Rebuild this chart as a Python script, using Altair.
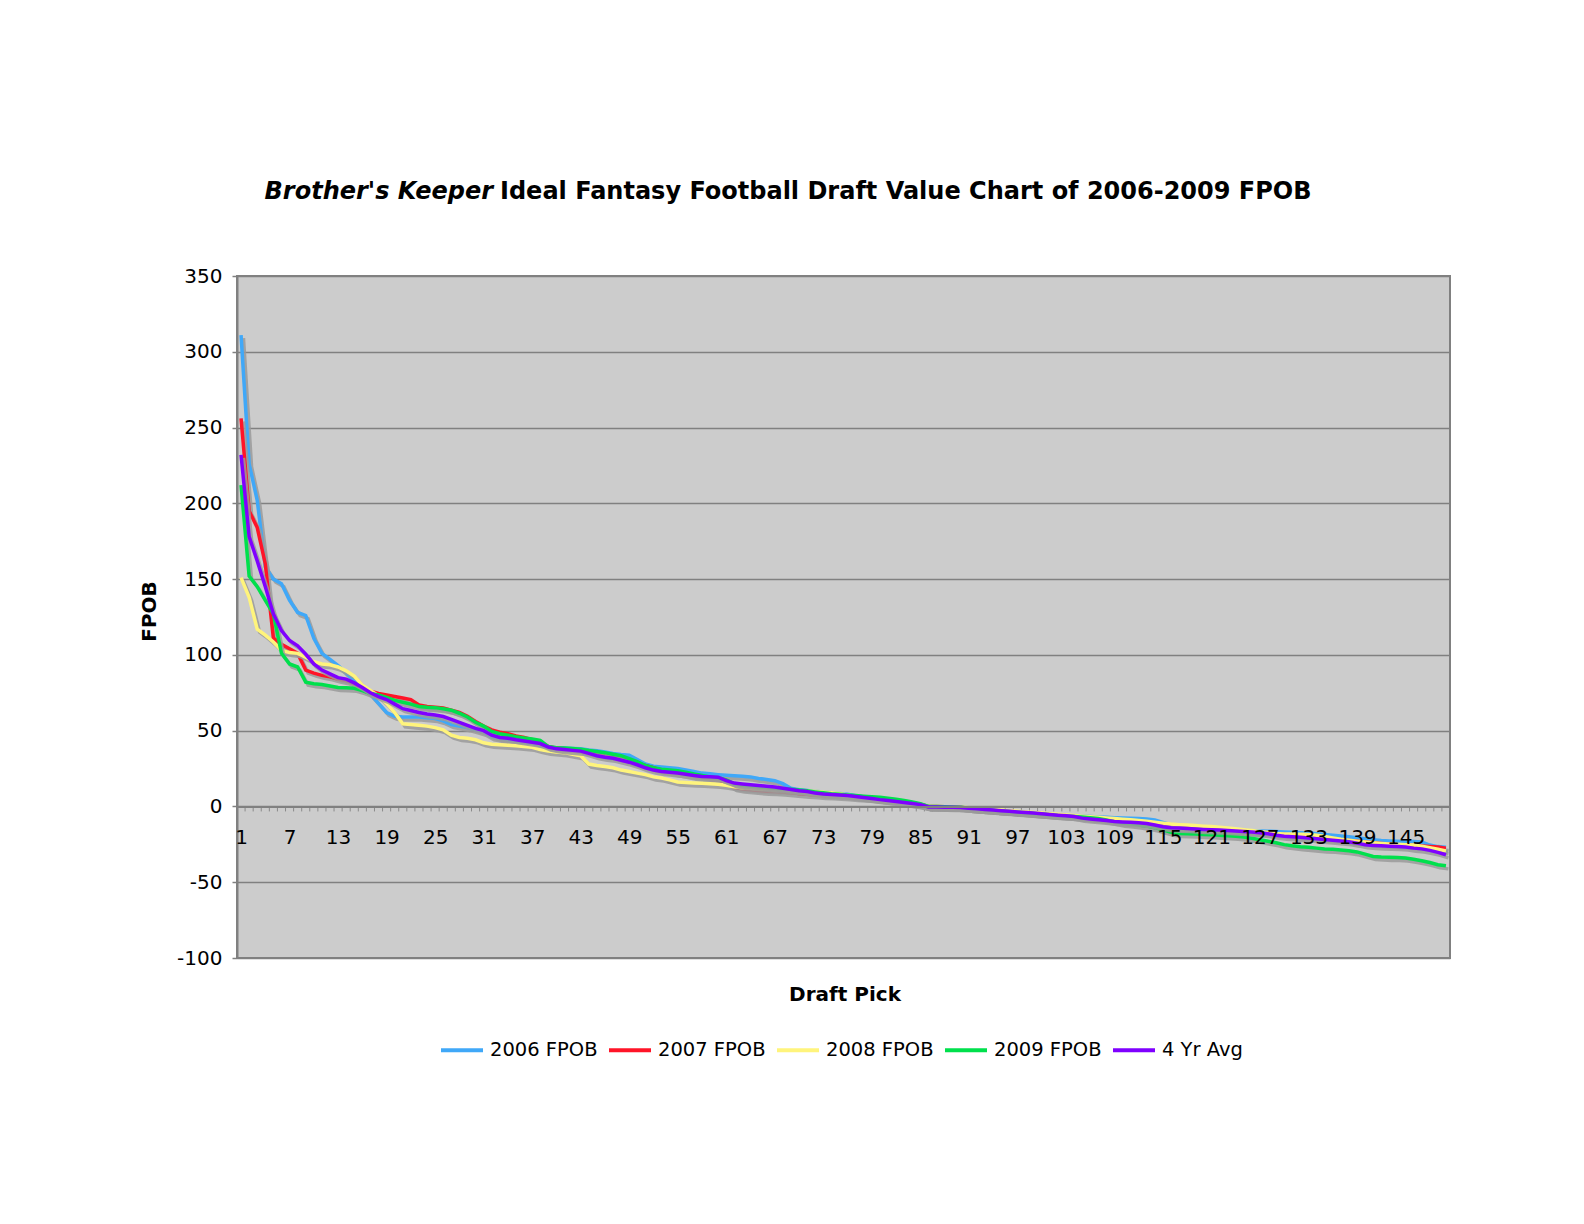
import altair as alt
import pandas as pd

picks = list(range(1, 151))

s2006 = [311, 226, 202, 158, 150, 147, 136, 128, 126, 111,
         101, 97, 93, 88, 83, 79, 74, 68, 62, 59.5,
         59, 59, 59, 58.5, 58, 56.5, 54, 53, 52, 50.5,
         49, 46, 45, 44, 43.5, 42.5, 41.5, 40, 39, 38.8,
         38.5, 38.3, 38, 37.3, 36.8, 36, 35, 34.3, 33.8, 31,
         28, 26.5, 26, 25.5, 25, 24, 23, 22, 21.5, 21,
         20.6, 20.3, 20, 19.5, 18.5, 17.8, 17, 15, 12, 11,
         10.5, 10, 9.5, 9, 8.5, 8, 7, 6.3, 5.6, 5,
         4.5, 3.8, 3, 2.2, 1.3, 0, -0.2, -0.3, -0.4, -0.5,
         -1, -1.5, -2, -2.4, -2.8, -3.2, -3.6, -4, -4.4, -4.8,
         -5.2, -5.6, -6, -6.2, -6.5, -6.7, -7, -7.2, -7.4, -7.6,
         -7.8, -8, -8.3, -9, -10.5, -12, -13, -13.5, -14, -14.5,
         -14.8, -15, -15.3, -15.6, -15.8, -16, -16.2, -16.4, -16.5, -16.8,
         -17, -17.3, -17.6, -18, -18.5, -19, -19.5, -20, -20.6, -21.3,
         -22, -22.5, -22.8, -23, -23.1, -23.2, -23.5, -25.5, -26.5, -27]

s2007 = [256, 195, 184, 160, 111, 107, 104, 101, 90, 88,
         86.5, 85.5, 84, 83, 81, 78, 76, 74.5, 73.5, 72.5,
         71.5, 70.5, 67, 66, 65.5, 65, 63.5, 62, 59.5, 56,
         53, 50.5, 49, 48, 46.5, 45.5, 44, 42.5, 39.5, 38.5,
         38, 37.5, 37, 36, 35, 34, 33, 32, 30, 28.5,
         27, 25.5, 24, 23, 22, 21, 20, 19, 18, 17.5,
         16, 12.5, 11.5, 11, 10.5, 10, 9.8, 9.5, 9, 8.5,
         8, 7.7, 7.3, 7, 6.7, 6.4, 6, 5.6, 5.2, 4.7,
         4.2, 3.6, 3, 2.3, 1.5, 0, 0, -0.2, -0.4, -0.6,
         -1.2, -1.6, -2, -2.4, -2.8, -3.2, -3.6, -4, -4.5, -5,
         -5.4, -5.8, -6.2, -6.6, -7, -7.4, -7.8, -8.2, -8.6, -9,
         -9.5, -10, -10.5, -11.5, -12.5, -13.5, -14, -14.3, -14.6, -15,
         -15.3, -15.6, -15.9, -16.2, -16.5, -16.8, -17.2, -17.6, -18, -18.5,
         -19, -19.5, -20, -20.5, -21, -21.5, -22, -22.5, -23, -23.5,
         -24, -24.4, -24.8, -25.2, -25.5, -25.8, -26.1, -26.4, -26.8, -27.5]

s2008 = [151, 138, 117, 113, 108.5, 103, 101.5, 101, 98.5, 95.5,
         94, 93.5, 92, 89.5, 86, 80, 76.5, 73, 68, 62,
         54.5, 54, 53.5, 53, 52, 50.5, 47, 45.5, 45, 44,
         42, 41, 40.7, 40.4, 40, 39.5, 39, 37.5, 36.5, 36,
         35.5, 34.5, 33.5, 28, 27, 26.3, 25.5, 24, 23, 22,
         21, 19.5, 18.8, 17.5, 16.2, 15.8, 15.5, 15.3, 15, 14.7,
         14, 13, 12.3, 12, 11.6, 11.3, 11, 10.8, 10.6, 10.4,
         10.2, 10, 9.6, 9, 8.5, 7.5, 6.5, 6, 5.5, 4.8,
         4, 3.3, 2.6, 1.8, 1, 0, -0.1, -0.2, -0.3, -0.5,
         -0.8, -1.2, -1.6, -2, -2.4, -2.8, -3.2, -3.6, -4, -4.4,
         -4.8, -5.2, -5.6, -6, -6.4, -6.8, -7.2, -7.6, -8, -8.4,
         -8.8, -9.3, -9.8, -10.4, -11, -11.6, -12, -12.3, -12.6, -13,
         -13.3, -13.7, -14.2, -14.7, -15.3, -15.9, -16.5, -17.2, -17.8, -18.1,
         -18.2, -18.3, -18.5, -19, -19.8, -20.8, -21.7, -22.3, -22.9, -23.5,
         -24, -24.4, -24.7, -25, -25.2, -25.5, -26.2, -27.2, -28.3, -29.3]

s2009 = [212, 152, 145, 136, 127, 101, 94, 92, 82, 81,
         80.5, 79.5, 78.5, 78.3, 78, 76.5, 74.5, 73.5, 72, 70,
         68.8, 67.5, 66, 65.5, 65.2, 64.5, 63.5, 61.5, 59, 55.5,
         53, 49.5, 48, 47, 46, 45.2, 44.5, 43.5, 39.5, 38.8,
         38.5, 38.2, 37.8, 37, 36.2, 35.5, 34.5, 33.5, 31.5, 29.5,
         27, 25.5, 24.5, 24, 23.5, 22.5, 21.5, 20.5, 19.5, 19,
         17.5, 15, 14, 13.5, 13, 12.5, 12, 11.7, 11.3, 10.8,
         10.3, 9.6, 9, 8.4, 8, 7.6, 7.2, 6.8, 6.4, 6,
         5.4, 4.8, 4, 3, 1.8, 0, 0, -0.2, -0.4, -0.6,
         -1.2, -1.6, -2, -2.5, -3, -3.4, -3.8, -4.2, -4.6, -5,
         -5.5, -6, -6.3, -6.6, -7, -7.5, -8, -9, -10, -11,
         -11.5, -12.2, -13, -14, -15.5, -17, -17.8, -18, -18.2, -18.5,
         -18.7, -19, -19.3, -19.7, -20.2, -21, -22, -23, -24, -25.2,
         -26, -26.6, -27, -27.5, -28, -28.3, -28.7, -29.2, -30, -31.5,
         -33, -33.4, -33.6, -33.7, -34, -34.8, -35.8, -37, -38.5, -39.2]

avg4 = [232, 178, 162, 145, 127, 116, 109.5, 106, 100.5, 94,
        90, 87.5, 85, 84, 81.5, 78.5, 75, 72.5, 70.5, 67.5,
        64.5, 63.3, 62, 61, 60.3, 59.3, 57.5, 55.5, 53.5, 51.5,
        50, 47, 45.5, 45, 44, 43.2, 42.4, 41.5, 39.2, 38,
        37.5, 37, 36.5, 35, 33.5, 32.5, 31.8, 30.5, 29.2, 27.5,
        25.5, 24, 23, 22.5, 22, 21.2, 20.4, 19.8, 19.6, 19.3,
        17, 15.4, 14.8, 14.3, 13.8, 13.3, 12.8, 12, 11.2, 10.4,
        9.8, 8.8, 8.2, 7.9, 7.6, 7.2, 6.5, 5.9, 5.3, 4.5,
        3.9, 3.2, 2.6, 1.9, 1.2, -0.3, -0.4, -0.5, -0.6, -0.7,
        -1.2, -1.6, -2, -2.4, -2.8, -3.2, -3.6, -4, -4.4, -4.8,
        -5.3, -5.8, -6.2, -6.7, -7.7, -8.3, -8.8, -9.3, -9.9, -10.2,
        -10.5, -10.8, -11.2, -12.2, -13.4, -14, -14.3, -14.6, -14.9, -15.2,
        -15.4, -15.6, -15.9, -16.2, -16.5, -16.9, -17.4, -18, -19, -19.6,
        -20, -20.4, -20.8, -21.3, -21.8, -22.3, -22.8, -23.3, -24.2, -25.3,
        -25.7, -26, -26.2, -26.4, -26.8, -27.5, -28, -29, -30.3, -31.9]

series_names = ["2006 FPOB", "2007 FPOB", "2008 FPOB", "2009 FPOB", "4 Yr Avg"]
series_colors = ["#40a8f8", "#ff1428", "#fff47c", "#00e04c", "#7f00ff"]
series_values = [s2006, s2007, s2008, s2009, avg4]

y_ticks = list(range(-100, 351, 50))
x_labels = list(range(1, 151, 6))
title_italic = ["Brother's Keeper"]
title_rest = ["Ideal Fantasy Football Draft Value Chart of 2006-2009 FPOB"]
x_title = ["Draft Pick"]
y_title = "FPOB"

FONT = "DejaVu Sans"
W, H = 1213, 682
zero_px = H * 350 / 450

rows = []
for name, vals in zip(series_names, series_values):
    for p, v in zip(picks, vals):
        rows.append({"pick": p, "value": v, "series": name})
df = pd.DataFrame(rows)

xscale = alt.Scale(domain=[0.5, 150.5], nice=False, zero=False)
yscale = alt.Scale(domain=[-100, 350], nice=False, zero=False)

xaxis = alt.Axis(values=x_labels, tickSize=0, labelFontSize=20, labelFont=FONT,
                 labelColor="black", labelPadding=31, labelBaseline="middle",
                 labelFlush=False, labelOverlap=False, grid=False,
                 domainColor="#808080", domainWidth=2, offset=-(H - zero_px),
                 labelExpr="'' + datum.value", zindex=1,
                 title=None)
yaxis = alt.Axis(values=y_ticks, tickSize=5, tickColor="#808080", tickWidth=1.5,
                 labelFontSize=20, labelFont=FONT, labelColor="black", labelPadding=10,
                 labelExpr="'' + datum.value",
                 grid=True, gridColor="#808080", gridWidth=1.5,
                 domainColor="#808080", domainWidth=2,
                 title=y_title, titleFont=FONT, titleFontSize=20, titleFontWeight="bold",
                 titleColor="black", titleX=-88, titleY=335, titleBaseline="middle")

legend = alt.Legend(orient="none", legendX=202, legendY=751, direction="horizontal",
                    symbolType="stroke", symbolSize=1764, symbolStrokeWidth=4,
                    labelFontSize=19.5, labelFont=FONT, labelColor="black",
                    labelOffset=5, columnPadding=3, title=None, padding=0)

base = alt.Chart(df)

# axis tick marks at category boundaries along the zero line
ticks = alt.Chart(pd.DataFrame({"pick": picks})).transform_filter(
    "datum.pick < 150"
).transform_calculate(
    b="datum.pick + 0.5", z="0", lo="-3.3"
).mark_rule(color="#8a8a8a", strokeWidth=1).encode(
    x=alt.X("b:Q", scale=xscale, axis=xaxis),
    y=alt.Y("z:Q", scale=yscale, axis=yaxis),
    y2="lo:Q",
)

layers = [ticks]
for name in series_names:
    shadow = base.transform_filter(alt.datum.series == name).transform_calculate(
        sx="datum.pick + 0.3", sy="datum.value - 2"
    ).mark_line(color="#9a9a9a", strokeWidth=3.5, opacity=0.85).encode(
        x=alt.X("sx:Q", scale=xscale, axis=xaxis),
        y=alt.Y("sy:Q", scale=yscale, axis=yaxis),
    )
    line = base.transform_filter(alt.datum.series == name).mark_line(
        strokeWidth=3.5
    ).encode(
        x=alt.X("pick:Q", scale=xscale, axis=xaxis),
        y=alt.Y("value:Q", scale=yscale, axis=yaxis),
        color=alt.Color("series:N",
                        scale=alt.Scale(domain=series_names, range=series_colors),
                        legend=legend),
    )
    layers += [shadow, line]

t1 = alt.Chart(pd.DataFrame({"t": title_italic})).mark_text(
    font=FONT, fontSize=24, fontWeight="bold", fontStyle="italic",
    align="right", baseline="middle", color="black"
).encode(x=alt.value(256), y=alt.value(-84), text="t:N")

t2 = alt.Chart(pd.DataFrame({"t": title_rest})).mark_text(
    font=FONT, fontSize=24, fontWeight="bold",
    align="left", baseline="middle", color="black"
).encode(x=alt.value(263), y=alt.value(-84), text="t:N")

t3 = alt.Chart(pd.DataFrame({"t": x_title})).mark_text(
    font=FONT, fontSize=20, fontWeight="bold",
    align="center", baseline="middle", color="black"
).encode(x=alt.value(608), y=alt.value(719), text="t:N")

chart = alt.layer(*layers, t1, t2, t3).properties(
    width=W, height=H,
    autosize=alt.AutoSizeParams(type="none"),
    padding={"left": 229, "top": 268, "right": 126, "bottom": 250},
    background="white",
).configure_view(
    fill="#cccccc", stroke="#808080", strokeWidth=2
)

chart.save("out.html", embed_options={"renderer": "svg", "actions": False})
